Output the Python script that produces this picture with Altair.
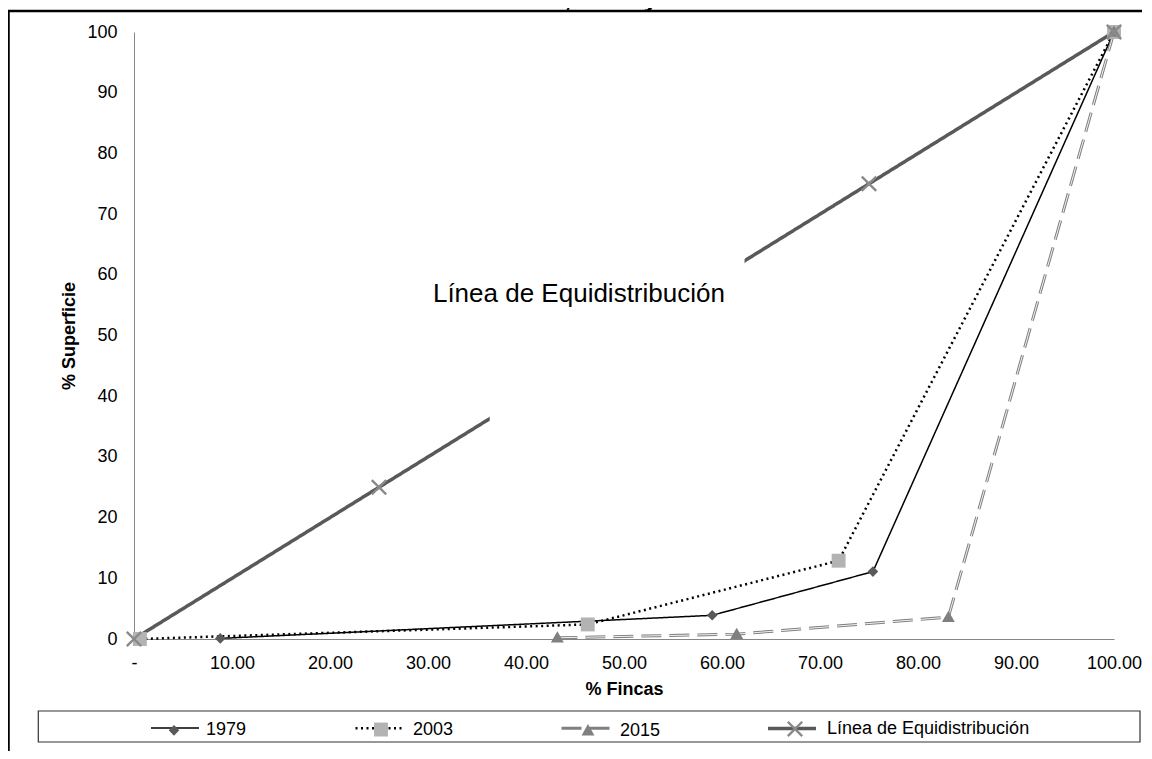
import math
import altair as alt
import pandas as pd

# ---------------- data ----------------
title_text = "Años 1979, 2003 y 2015"
series_names = ["1979", "2003", "2015", "Línea de Equidistribución"]

fincas_1979 = [8.8, 59.0, 75.4, 100.0]
superficie_1979 = [0.1, 3.9, 11.1, 100.0]
fincas_2003 = [0.6, 46.3, 71.9, 100.0]
superficie_2003 = [0.0, 2.4, 12.9, 100.0]
fincas_2015 = [43.2, 61.5, 83.1, 100.0]
superficie_2015 = [0.2, 0.8, 3.6, 100.0]
fincas_equi = [0.0, 25.0, 75.0, 100.0]
superficie_equi = [0.0, 25.0, 75.0, 100.0]

x_ticks = [0, 10, 20, 30, 40, 50, 60, 70, 80, 90, 100]
y_ticks = [0, 10, 20, 30, 40, 50, 60, 70, 80, 90, 100]

annotation_text = "Línea de Equidistribución"
annotation_x = [45.4]
annotation_y = [55.5]
annotation_box_x = [36.3, 62.3]
annotation_box_y = [34.0, 65.0]

# ---------------- tables ----------------
rows = []
for name, xs, ys in [
    (series_names[0], fincas_1979, superficie_1979),
    (series_names[1], fincas_2003, superficie_2003),
    (series_names[2], fincas_2015, superficie_2015),
    (series_names[3], fincas_equi, superficie_equi),
]:
    for xv, yv in zip(xs, ys):
        rows.append({"serie": name, "fincas": xv, "superficie": yv})
df = pd.DataFrame(rows)

# ---------------- styles ----------------
FONT = "Liberation Sans"
line_colors = ["#000000", "#000000", "#808080", "#595959"]
line_dashes = [[1, 0], [2, 3.5], [20, 8], [1, 0]]
line_widths = [1.5, 2.5, 3, 3.5]
marker_colors = ["#595959", "#b3b3b3", "#808080", "#8a8a8a"]


def x_path(a, h):
    L = a * math.sqrt(2)
    pts = [(-h, -L), (h, -L), (h, -h), (L, -h), (L, h), (h, h),
           (h, L), (-h, L), (-h, h), (-L, h), (-L, -h), (-h, -h)]
    r = [((px - py) / math.sqrt(2), (px + py) / math.sqrt(2)) for px, py in pts]
    return "M" + "L".join(f"{px:.3f},{py:.3f}" for px, py in r) + "Z"


marker_paths = [
    "M0,-0.22L0.22,0L0,0.22L-0.22,0Z",
    "M-0.29,-0.29L0.29,-0.29L0.29,0.29L-0.29,0.29Z",
    "M0,-0.27L0.27,0.2L-0.27,0.2Z",
    x_path(0.3, 0.05),
]

legend_common = dict(
    title=None, orient="none", legendY=670.5, direction="horizontal",
    symbolSize=2304, labelFont=FONT, labelFontSize=18, labelColor="black",
    labelOffset=6, padding=0, labelLimit=400,
)
# line part of the legend keys (no labels: the labels come from the marker legend)
leg_lines = alt.Legend(symbolType="M-1,0L1,0", symbolOpacity=1, labelExpr="''",
                       legendX=16, columnPadding=144, **legend_common)
# marker part of the legend keys, with the visible labels
leg_marks = alt.Legend(symbolStrokeWidth=3.5, symbolStrokeColor="transparent",
                       legendX=14, columnPadding=108, **legend_common)

xscale = alt.Scale(domain=[0, 100], nice=False)
yscale = alt.Scale(domain=[0, 100], nice=False)
x_axis = alt.Axis(
    title="% Fincas", values=x_ticks, grid=False, ticks=False,
    labelExpr="datum.value == 0 ? '-' : format(datum.value, '.2f')",
    domainColor="#868686", labelFontSize=18, labelColor="black",
    titleFontSize=18, titleFontWeight="bold", titleColor="black",
    labelPadding=15, titlePadding=8, labelFlush=False, labelOverlap=False,
)
y_axis = alt.Axis(
    title="% Superficie", values=y_ticks, grid=False, ticks=False,
    domainColor="#868686", labelFontSize=18, labelColor="black",
    titleFontSize=18, titleFontWeight="bold", titleColor="black",
    labelPadding=17, titlePadding=8, labelOverlap=False,
)
x_enc = alt.X("fincas:Q", scale=xscale, axis=x_axis)
y_enc = alt.Y("superficie:Q", scale=yscale, axis=y_axis)

base = alt.Chart(df)

lines = base.mark_line(strokeCap="butt").encode(
    x=x_enc, y=y_enc,
    stroke=alt.Stroke("serie:N", scale=alt.Scale(domain=series_names, range=line_colors), legend=leg_lines),
    strokeDash=alt.StrokeDash("serie:N", scale=alt.Scale(domain=series_names, range=line_dashes), legend=leg_lines),
    strokeWidth=alt.StrokeWidth("serie:N", scale=alt.Scale(type="ordinal", domain=series_names, range=line_widths), legend=leg_lines),
)

stripe = base.transform_filter(alt.datum.serie == series_names[2]).mark_line(
    stroke="white", strokeWidth=0.9, strokeDash=[20, 8], strokeCap="butt"
).encode(x=x_enc, y=y_enc)

markers = base.mark_point(filled=True, size=2304, strokeWidth=0, opacity=1).encode(
    x=x_enc, y=y_enc,
    shape=alt.Shape("serie:N", scale=alt.Scale(range=marker_paths), legend=leg_marks),
    fill=alt.Fill("serie:N", scale=alt.Scale(range=marker_colors), legend=leg_marks),
)

box_df = pd.DataFrame({"x1": [annotation_box_x[0]], "x2": [annotation_box_x[1]],
                       "y1": [annotation_box_y[0]], "y2": [annotation_box_y[1]]})
label_box = alt.Chart(box_df).mark_rect(color="white").encode(
    x=alt.X("x1:Q", scale=xscale), x2="x2:Q",
    y=alt.Y("y1:Q", scale=yscale), y2="y2:Q",
)

label_df = pd.DataFrame({"x": annotation_x, "y": annotation_y, "t": [annotation_text]})
label = alt.Chart(label_df).mark_text(
    font=FONT, fontSize=26, align="center", baseline="alphabetic", color="black"
).encode(x=alt.X("x:Q", scale=xscale), y=alt.Y("y:Q", scale=yscale), text="t:N")

one = pd.DataFrame({"k": [0]})
frame = alt.Chart(one).mark_rect(fillOpacity=0, stroke="black", strokeWidth=2.5).encode(
    x=alt.value(-125.5), x2=alt.value(1300), y=alt.value(-21), y2=alt.value(900)
)
legend_box = alt.Chart(one).mark_rect(fillOpacity=0, stroke="#333333", strokeWidth=1.2).encode(
    x=alt.value(-95.7), x2=alt.value(1006), y=alt.value(679), y2=alt.value(710)
)
title_mark = alt.Chart(one).mark_text(
    font=FONT, fontSize=26, fontWeight="bold", align="center", baseline="alphabetic", color="black"
).encode(x=alt.value(444.5), y=alt.value(-25), text=alt.value(title_text))

chart = alt.layer(
    lines, stripe, markers, label_box, label, legend_box, frame, title_mark
).properties(
    width=980, height=607,
    autosize=alt.AutoSizeParams(type="none"),
    padding={"left": 126, "top": 24, "right": 28, "bottom": 112},
    background="white",
).configure_view(strokeWidth=0).configure_axis(
    labelFont=FONT, titleFont=FONT
).configure_legend(labelFont=FONT)

chart.save("out.html", embed_options={"renderer": "svg", "actions": False})
